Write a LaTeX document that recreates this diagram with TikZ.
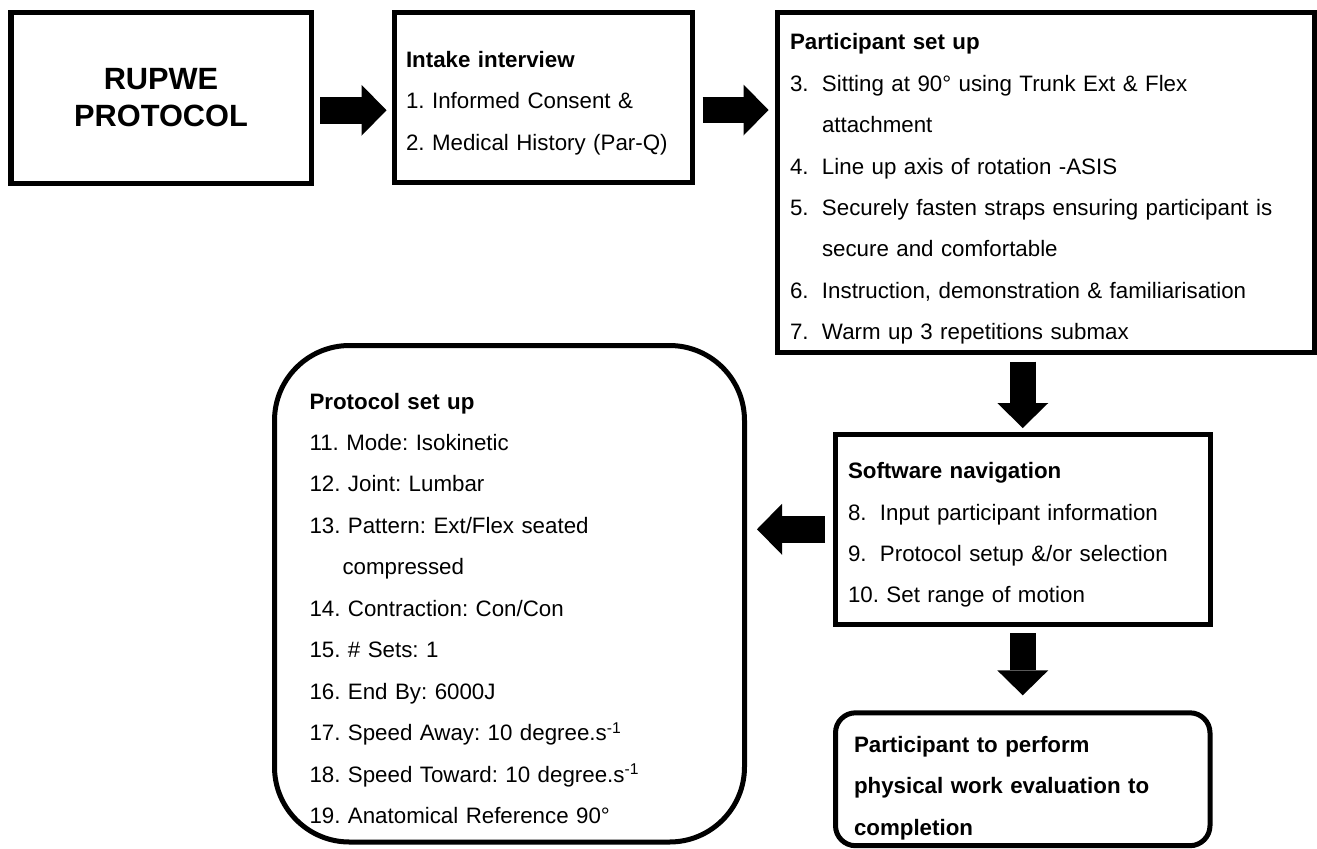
\documentclass[tikz,border=0pt]{standalone}
\usepackage{fontspec}
\setmainfont{Liberation Sans}[WordSpace=1.4]
\usepackage{tikz}
\usetikzlibrary{arrows.meta}

\newcommand{\itemno}[1]{\makebox[0.64cm][l]{#1}}
\newcommand{\topgap}[1]{\rule{0pt}{#1}}
\frenchspacing

\begin{document}
\begin{tikzpicture}[
        box/.style={draw, rectangle, line width=0.1cm, align=left, inner xsep=0.26cm, font=\fontsize{12.7}{23.6}\selectfont},
        arrow/.style={line width=0.53cm, -{Triangle[length=0.5cm, width=1.02cm, line width=0pt]}}]

        \fill[white] (0,0) rectangle (26.34,-16.9);

        % Title
        \node[box, align=center, minimum width=6cm, minimum height=3.41cm, font=\fontsize{17.5}{21}\selectfont\bfseries] (rupwe) at (3.22,-1.955) {RUPWE\\PROTOCOL};

        % Intake interview
        \node[box, text width=5.49cm, inner xsep=0.24cm, minimum height=3.4cm] (intake) at (10.865,-1.95) {\topgap{15.7pt}\textbf{Intake interview}\\1. Informed Consent \&\\2. Medical History (Par-Q)};

        % Participant set up
        \node[box, text width=10.22cm, minimum height=6.79cm] (setup) at (20.91,-3.645) {\topgap{16.9pt}\textbf{Participant set up}\\
            \itemno{3.}Sitting at 90° using Trunk Ext \& Flex\\
            \itemno{}attachment\\
            \itemno{4.}Line up axis of rotation -ASIS\\
            \itemno{5.}Securely fasten straps ensuring participant is\\
            \itemno{}secure and comfortable\\
            \itemno{6.}Instruction, demonstration \& familiarisation\\
            \itemno{7.}Warm up 3 repetitions submax};

        % Software navigation
        \node[box, text width=6.99cm, minimum height=3.81cm] (software) at (20.455,-10.585) {\topgap{15.7pt}\textbf{Software navigation}\\
            \itemno{8.}Input participant information\\
            \itemno{9.}Protocol setup \&/or selection\\
            10. Set range of motion};

        % Protocol set up
        \node[box, rounded corners=1.5cm, text width=8cm, inner xsep=0.7cm, minimum height=9.93cm] (protocol) at (10.19,-11.875) {\topgap{25.9pt}\textbf{Protocol set up}\\
            11. Mode: Isokinetic\\
            12. Joint: Lumbar\\
            13. Pattern: Ext/Flex seated\\
            \hspace*{0.66cm}compressed\\
            14. Contraction: Con/Con\\
            15. \# Sets: 1\\
            16. End By: 6000J\\
            17. Speed Away: 10 degree.s\textsuperscript{-1}\\
            18. Speed Toward: 10 degree.s\textsuperscript{-1}\\
            19. Anatomical Reference 90°};

        % Perform evaluation
        \node[box, rounded corners=0.4cm, text width=6.75cm, inner xsep=0.37cm, minimum height=2.47cm, font=\fontsize{12.7}{23.6}\selectfont\bfseries] (perform) at (20.455,-15.585) {\topgap{19.1pt}Participant to perform\\physical work evaluation to\\completion};

        % Arrows
        \draw[arrow, shorten <=0.13cm, shorten >=0.1cm] ([yshift=-0.25cm]rupwe.east) -- ([yshift=-0.25cm]rupwe.east -| intake.west);
        \draw[arrow, shorten <=0.15cm, shorten >=0.12cm] ([yshift=-0.25cm]intake.east) -- ([yshift=-0.25cm]intake.east -| setup.west);
        \draw[arrow, shorten <=0.14cm, shorten >=0.07cm] (setup.south -| software.north) -- (software.north);
        \draw[arrow, shorten <=0.15cm, shorten >=0.2cm] (software.west) -- (software.west -| protocol.east);
        \draw[arrow, shorten <=0.12cm, shorten >=0.3cm] (software.south) -- (perform.north);

    \end{tikzpicture}
\end{document}
